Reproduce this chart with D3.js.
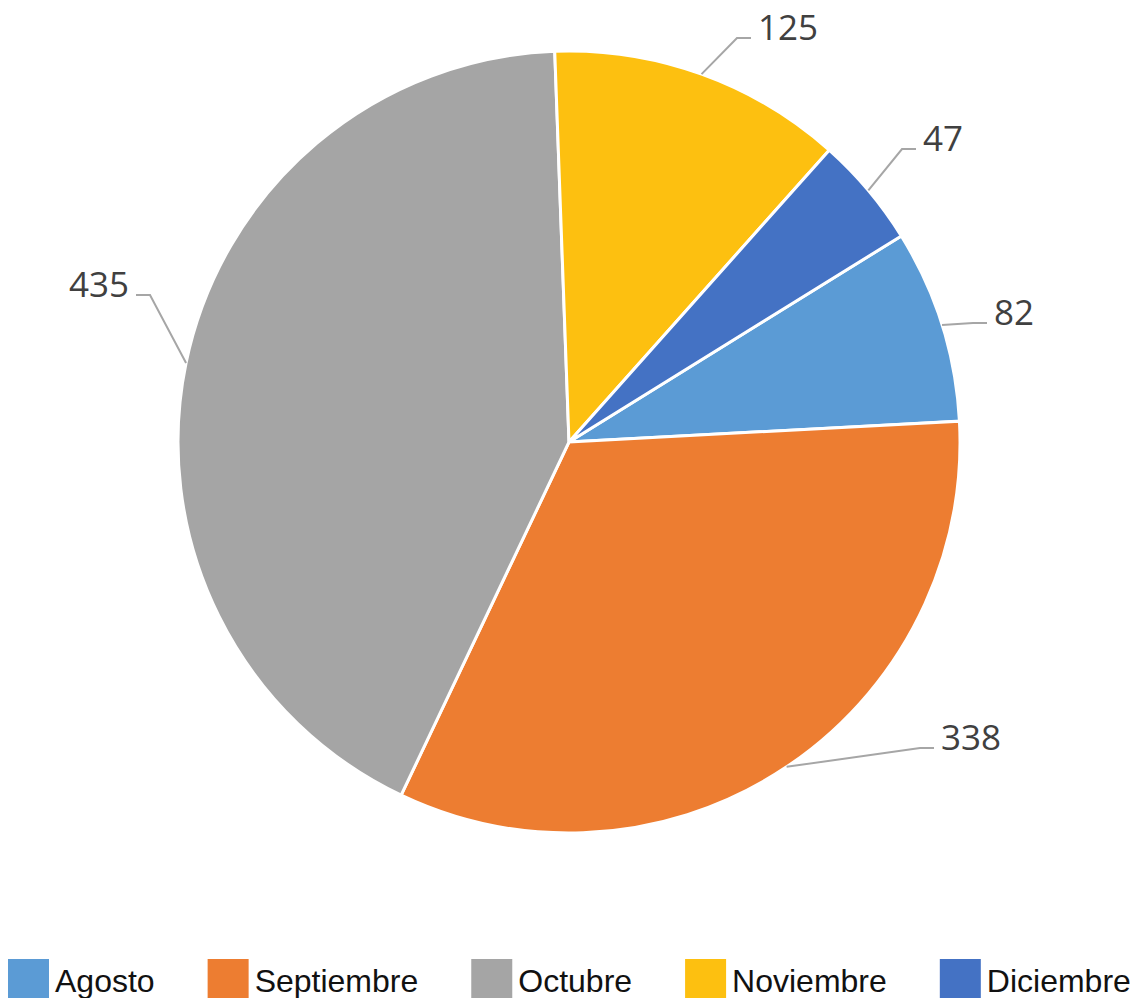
<!DOCTYPE html>
<html lang="es">
  <head>
    <meta charset="utf-8">
    <script src="https://cdnjs.cloudflare.com/ajax/libs/d3/7.8.5/d3.min.js"></script>
    <style>
      body { margin: 0; background: #fff; }
      .slices path {
        stroke: #fff;
        stroke-width: 3px;
      }
      .leaders path {
        fill: none;
        stroke: #a6a6a6;
        stroke-width: 2px;
      }
      .labels text {
        font-family: "Open Sans", sans-serif;
        font-size: 35px;
        fill: #404040;
      }
      .legend text {
        font-family: "Liberation Sans", Arial, sans-serif;
        font-size: 32px;
        fill: #111;
      }
    </style>
  </head>

  <body>

  <script>
  var months = ['Agosto', 'Septiembre', 'Octubre', 'Noviembre', 'Diciembre'];
  var counts = [82, 338, 435, 125, 47];
  var colors = ['#5b9bd5', '#ed7d31', '#a5a5a5', '#fdc010', '#4472c4'];

  // where each label's leader bends, relative to the pie centre (Excel placed them by hand)
  var elbows = [[404, -119], [351, 306], [-419, -147], [168, -404], [333, -293]];

  var width = 1135,
      height = 998,
      cx = 569,
      cy = 442,
      radius = 391,
      start = 58.2 * Math.PI / 180;

  var svg = d3.select('body')
    .append('svg')
    .attr('width', width)
    .attr('height', height);

  var pie = d3.pie()
    .sort(null)
    .startAngle(start)
    .endAngle(start + 2 * Math.PI);

  var arc = d3.arc()
    .innerRadius(0)
    .outerRadius(radius);

  var color = d3.scaleOrdinal()
    .domain(months)
    .range(colors);

  var arcs = pie(counts);

  var g = svg.append('g')
    .attr('transform', 'translate(' + cx + ',' + cy + ')');

  g.append('g')
    .attr('class', 'slices')
    .selectAll('path')
    .data(arcs)
    .enter().append('path')
      .attr('d', arc)
      .attr('fill', (d, i) => color(months[i]));

  // leader lines: slice edge -> elbow -> short horizontal tail
  var tail = 14;
  var leaders = arcs.map((d, i) => {
    var a = (d.startAngle + d.endAngle) / 2;
    var p0 = [radius * Math.sin(a), -radius * Math.cos(a)];
    var p1 = elbows[i];
    var right = p1[0] >= 0;
    var p2 = [p1[0] + (right ? tail : -tail), p1[1]];
    return { pts: [p0, p1, p2], right: right, value: d.data };
  });

  g.append('g')
    .attr('class', 'leaders')
    .selectAll('path')
    .data(leaders)
    .enter().append('path')
      .attr('d', d => d3.line()(d.pts));

  g.append('g')
    .attr('class', 'labels')
    .selectAll('text')
    .data(leaders)
    .enter().append('text')
      .attr('x', d => d.pts[2][0] + (d.right ? 7 : -7))
      .attr('y', d => d.pts[2][1] + 2)
      .attr('text-anchor', d => d.right ? 'start' : 'end')
      .text(d => d.value);

  // legend along the bottom
  var box = 41, pad = 6, gap = 53;
  var legend = svg.append('g').attr('class', 'legend');
  var items = legend.selectAll('g')
    .data(months)
    .enter().append('g');

  items.append('rect')
    .attr('width', box)
    .attr('height', box)
    .attr('y', 959)
    .attr('fill', d => color(d));

  items.append('text')
    .attr('x', box + pad)
    .attr('y', 992)
    .text(d => d);

  var x = 8;
  items.each(function () {
    d3.select(this).attr('transform', 'translate(' + x + ',0)');
    x += box + pad + d3.select(this).select('text').node().getComputedTextLength() + gap;
  });

  </script>
  </body>
</html>
